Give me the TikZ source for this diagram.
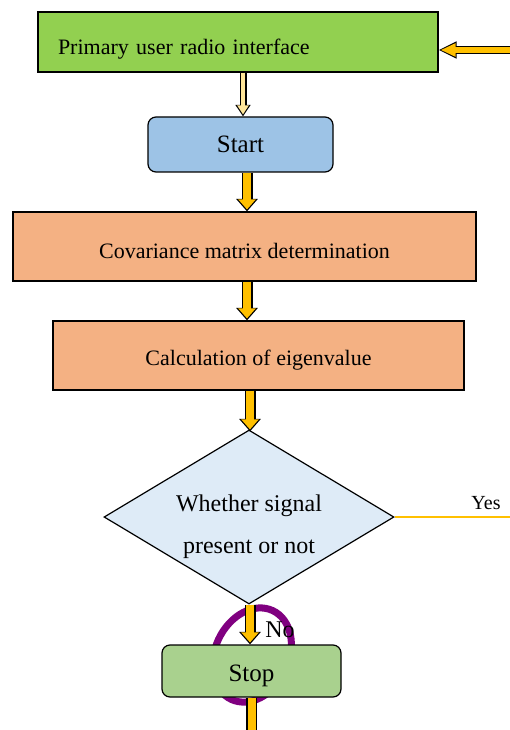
\documentclass[tikz,border=0pt]{standalone}
\usepackage{fontspec}
\setmainfont{Liberation Serif}
\usetikzlibrary{shapes.geometric,arrows.meta}

\definecolor{ifacegreen}{HTML}{92D050}
\definecolor{startblue}{HTML}{9DC3E6}
\definecolor{stepsalmon}{HTML}{F4B183}
\definecolor{decisionblue}{HTML}{DEEBF7}
\definecolor{stopgreen}{HTML}{A9D18E}
\definecolor{arroworange}{HTML}{FFC000}
\definecolor{arrowpale}{HTML}{FFE699}
\definecolor{ringpurple}{HTML}{800080}

\newcommand{\lowtext}[2]{\raisebox{-#1}[0pt][0pt]{#2}}

\tikzset{
	box/.style={draw=black, line width=1.2pt, inner sep=0pt, font=\fontsize{22}{26}\selectfont},
	roundbox/.style={box, rounded corners=8pt, font=\fontsize{25}{28}\selectfont},
	blockarrow/.style={draw=arroworange, line width=8pt, -{Triangle[length=10pt,width=17pt]}, shorten >=2pt,
		preaction={draw=black, line width=11pt, -{Triangle[length=12.5pt,width=21pt]}, shorten >=0pt}},
	palearrow/.style={draw=arrowpale, line width=4.5pt, -{Triangle[length=9pt,width=11pt]}, shorten >=2pt,
		preaction={draw=black, line width=7pt, -{Triangle[length=11.5pt,width=14.5pt]}, shorten >=0pt}},
	inarrow/.style={draw=arroworange, line width=6pt, -{Triangle[length=15pt,width=12.5pt]}, shorten >=2pt,
		preaction={draw=black, line width=8.5pt, -{Triangle[length=18pt,width=16pt]}, shorten >=0pt}},
}

\begin{document}
\begin{tikzpicture}[x=1pt,y=-1pt]

			\clip (0,0) rectangle (510,730);
			\fill[white] (0,0) rectangle (510,730);

			\node (iface) [box, fill=ifacegreen, minimum height=60pt, text width=360pt, inner xsep=20pt, align=left] at (238,42) {\lowtext{13pt}{Primary user radio interface}};

			\node (start) [roundbox, fill=startblue, minimum width=185pt, minimum height=55pt] at (240.5,144.5) {Start\hspace{14pt}};

			\node (cov) [box, fill=stepsalmon, minimum width=463pt, minimum height=69pt] at (244.5,246.5) {\lowtext{12pt}{Covariance matrix determination}};

			\node (calc) [box, fill=stepsalmon, minimum width=411pt, minimum height=69pt] at (258.5,355.5) {\lowtext{10pt}{Calculation of eigenvalue}};

			\node (decide) [diamond, draw=black, line width=1.2pt, fill=decisionblue, minimum width=290pt, minimum height=174pt, inner sep=0pt,
				label={[yshift=-10pt, align=center, font=\fontsize{24}{42}\selectfont]center:Whether signal\\present or not}] at (249,517) {};

			% ring behind the stop box
			\draw [ringpurple, line width=7pt, rotate around={-25:(252,655)}] (252,655) ellipse (37pt and 49pt);

			\node (stop) [roundbox, fill=stopgreen, minimum width=179pt, minimum height=52pt] at (251.5,671) {\lowtext{10pt}{Stop}\hspace{13pt}};

			\coordinate (in) at (510,50);
			\coordinate (yes) at (510,517);
			\coordinate (out) at (250,745);

			\draw [inarrow] (in) -- (in -| iface.east);
			\draw [palearrow] ([xshift=5pt]iface.south) -- ([xshift=5pt]iface.south |- start.north);
			\draw [blockarrow] ([xshift=6.5pt]start.south) -- ([xshift=6.5pt]start.south |- cov.north);
			\draw [blockarrow] ([xshift=2.5pt]cov.south) -- ([xshift=2.5pt]cov.south |- calc.north);
			\draw [blockarrow] ([xshift=-8.5pt]calc.south) -- ([xshift=-8.5pt,yshift=-2pt]calc.south |- decide.north);
			\draw [blockarrow] ([xshift=1pt]decide.south) -- ([xshift=1pt]decide.south |- stop.north);
			\draw [blockarrow] (stop.south) -- (stop.south |- out);

			\draw [arroworange, line width=1.5pt] (decide.east) -- (yes);

			\node (yeslabel) [font=\fontsize{20}{24}\selectfont] at (486,503) {Yes};
			\node (nolabel) [font=\fontsize{24}{26}\selectfont] at (280,630) {No};

		\end{tikzpicture}
\end{document}
